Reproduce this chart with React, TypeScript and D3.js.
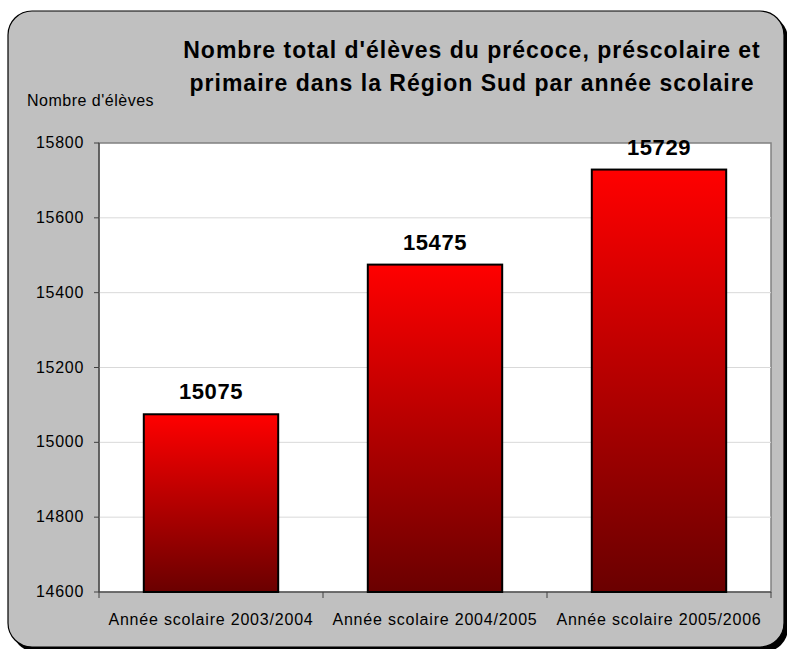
import React from "react";
import * as d3 from "d3";

const categories = ["Année scolaire 2003/2004", "Année scolaire 2004/2005", "Année scolaire 2005/2006"];
const values = [15075, 15475, 15729];
const yTicks = [14600, 14800, 15000, 15200, 15400, 15600, 15800];
const titleLines = ["Nombre total d'élèves du précoce, préscolaire et", "primaire dans la Région Sud par année scolaire"];
const yAxisTitle = "Nombre d'élèves";

export default function App() {
  const W = 787, H = 649;
  const left = 99, right = 771, top = 143, bottom = 592;
  const x = d3.scaleBand().domain(categories).range([left, right]).paddingInner(0.4).paddingOuter(0.2);
  const xb = d3.scaleBand().domain(categories).range([left, right]);
  const y = d3.scaleLinear().domain([14600, 15800]).range([bottom, top]);
  const font = "Arial, 'Liberation Sans', sans-serif";
  return (
    <svg width={W} height={H} style={{ position: "absolute", left: 0, top: 0 }} fontFamily={font}>
      <defs>
        <linearGradient id="barGrad" x1="0" y1="0" x2="0" y2="1">
          <stop offset="0" stopColor="#ff0000" />
          <stop offset="1" stopColor="#6a0000" />
        </linearGradient>
      </defs>
      <rect x={12} y={15} width={776} height={637} rx={24} ry={24} fill="#000" />
      <rect x={8} y={11} width={776} height={636} rx={24} ry={24} fill="#c0c0c0" stroke="#000" strokeWidth={1.2} />
      <rect x={left} y={top} width={right - left} height={bottom - top} fill="#fff" stroke="#808080" strokeWidth={1.5} />
      {yTicks.map((t) => (
        <g key={t}>
          {t !== 14600 && t !== 15800 && (
            <line x1={left} x2={right} y1={y(t)} y2={y(t)} stroke="#d9d9d9" strokeWidth={1} />
          )}
          <line x1={left - 5} x2={left} y1={y(t)} y2={y(t)} stroke="#404040" strokeWidth={1} />
          <text x={84} y={y(t)} dy="0.32em" textAnchor="end" fontSize={16} letterSpacing={0.7} fill="#000">{t}</text>
        </g>
      ))}
      <line x1={left} x2={left} y1={top} y2={bottom} stroke="#404040" strokeWidth={1.2} />
      <line x1={left} x2={right} y1={bottom} y2={bottom} stroke="#404040" strokeWidth={1.2} />
      {[...categories.map((c) => xb(c) as number), right].map((v, i) => (
        <line key={i} x1={v} x2={v} y1={bottom} y2={bottom + 6} stroke="#404040" strokeWidth={1} />
      ))}
      {categories.map((c, i) => (
        <g key={c}>
          <rect x={x(c)} y={y(values[i])} width={x.bandwidth()} height={bottom - y(values[i])} fill="url(#barGrad)" stroke="#000" strokeWidth={2} />
          <text x={(x(c) as number) + x.bandwidth() / 2} y={y(values[i]) - 15} textAnchor="middle" fontSize={22} letterSpacing={0.6} fontWeight="bold" fill="#000">{values[i]}</text>
          <text x={(xb(c) as number) + xb.bandwidth() / 2} y={625} textAnchor="middle" fontSize={16} letterSpacing={0.8} fill="#000">{c}</text>
        </g>
      ))}
      {titleLines.map((l, i) => (
        <text key={i} x={472} y={58 + i * 33} textAnchor="middle" fontSize={23} letterSpacing={1} fontWeight="bold" fill="#000">{l}</text>
      ))}
      <text x={27} y={106} fontSize={16} letterSpacing={0.5} fill="#000">{yAxisTitle}</text>
    </svg>
  );
}
